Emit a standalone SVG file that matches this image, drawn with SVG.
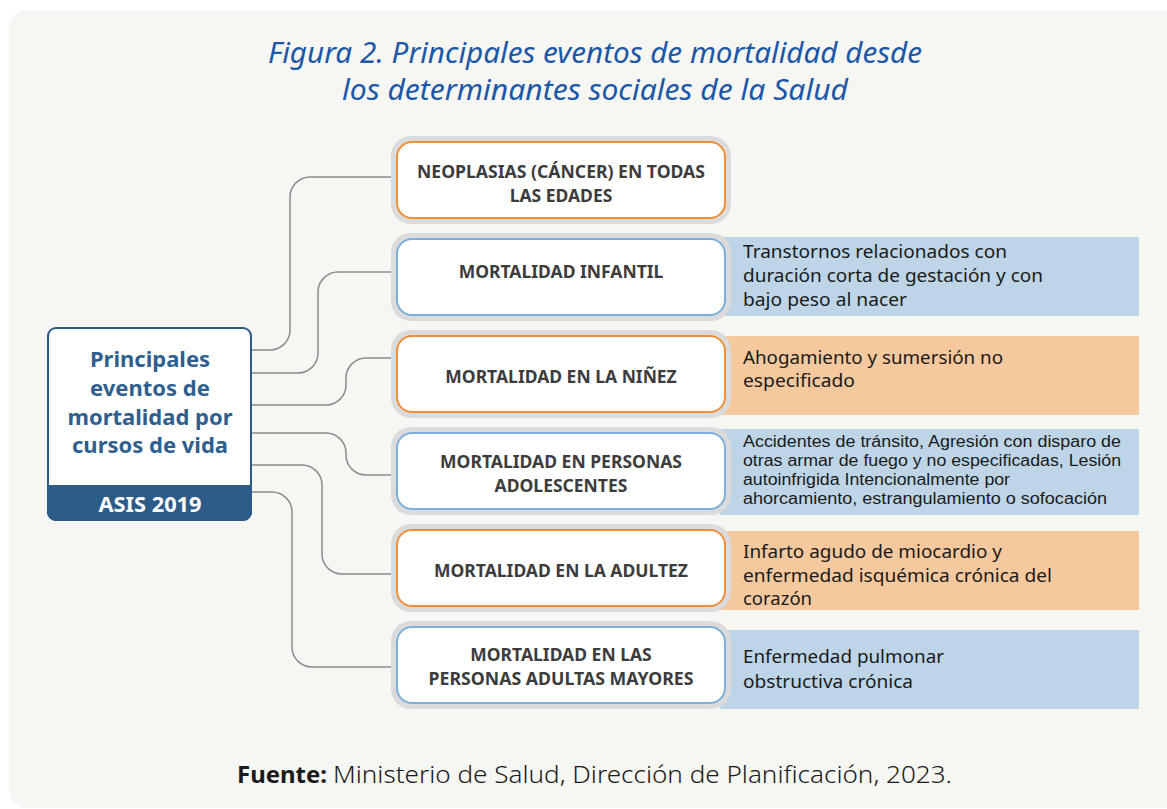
<svg xmlns="http://www.w3.org/2000/svg" width="1167" height="809" viewBox="0 0 1167 809">
<defs>
<style>
.title{font-family:"Noto Sans","Open Sans",sans-serif;font-style:italic;font-size:29px;fill:#1c57a8;text-anchor:middle}
.conn{fill:none;stroke:#8c8c8c;stroke-width:1.5}
.ring{fill:#dbdbdb}
.inO{fill:#fff;stroke:#ef8f37;stroke-width:2}
.inB{fill:#fff;stroke:#7cafd9;stroke-width:2}
.pB{fill:#bdd5e6}
.pO{fill:#f5c89d}
.bt{font-family:"Noto Sans","Open Sans",sans-serif;font-weight:bold;font-size:17.5px;fill:#3c3c3c;text-anchor:middle}
.st{font-family:"Noto Sans","Open Sans",sans-serif;font-size:18px;fill:#1a1a1a}
.st2{font-family:"Liberation Sans",Arial,sans-serif;font-size:16px;fill:#1a1a1a}
.mt{font-family:"Noto Sans","Open Sans",sans-serif;font-weight:bold;font-size:22px;fill:#2e5f8f;text-anchor:middle}
.ft{font-family:"Noto Sans","Open Sans",sans-serif;font-size:24px;fill:#1a1a1a}
</style>
</defs>
<rect x="0" y="0" width="1167" height="809" fill="#ffffff"/>
<rect x="9" y="10" width="1180" height="798" rx="18" fill="#f6f6f2"/>
<g id="title">
<text class="title" x="595" y="63" textLength="654" lengthAdjust="spacingAndGlyphs">Figura 2. Principales eventos de mortalidad desde</text>
<text class="title" x="595" y="100" textLength="506" lengthAdjust="spacingAndGlyphs">los determinantes sociales de la Salud</text>
</g>
<g id="connectors">
<path class="conn" d="M252,350 H270 A20,20 0 0 0 290,330 V197 A20,20 0 0 1 310,177 H397"/>
<path class="conn" d="M252,373 H298 A20,20 0 0 0 318,353 V292 A20,20 0 0 1 338,272 H397"/>
<path class="conn" d="M252,405 H326 A20,20 0 0 0 346,385 V378 A20,20 0 0 1 366,358 H397"/>
<path class="conn" d="M252,433 H326 A20,20 0 0 1 346,453 V455 A20,20 0 0 0 366,475 H397"/>
<path class="conn" d="M252,465 H302 A20,20 0 0 1 322,485 V554 A20,20 0 0 0 342,574 H397"/>
<path class="conn" d="M252,492 H272 A20,20 0 0 1 292,512 V647 A20,20 0 0 0 312,667 H397"/>
</g>
<g id="root">
<rect x="48" y="328" width="203" height="192" rx="8" fill="#ffffff" stroke="#2d5b88" stroke-width="2"/>
<path d="M48,486 H251 V512 A8,8 0 0 1 243,520 H56 A8,8 0 0 1 48,512 Z" fill="#2d5b88" stroke="#2d5b88" stroke-width="2"/>
<text class="mt" x="150" y="367">Principales</text>
<text class="mt" x="150" y="396">eventos de</text>
<text class="mt" x="150" y="425">mortalidad por</text>
<text class="mt" x="150" y="453">cursos de vida</text>
<text x="150" y="512" font-family="Noto Sans, Open Sans, sans-serif" font-weight="bold" font-size="21" fill="#ffffff" text-anchor="middle" textLength="103" lengthAdjust="spacingAndGlyphs">ASIS 2019</text>
</g>
<g id="n1">
<rect class="ring" x="391" y="136" width="340" height="88" rx="20"/>
<rect class="inO" x="397" y="142" width="328" height="76" rx="15"/>
<text class="bt" x="561" y="178" textLength="288" lengthAdjust="spacingAndGlyphs">NEOPLASIAS (CÁNCER) EN TODAS</text>
<text class="bt" x="561" y="202">LAS EDADES</text>
</g>
<g id="n2">
<rect class="pB" x="720" y="237" width="419" height="79"/>
<rect class="ring" x="391" y="233" width="340" height="88" rx="20"/>
<rect class="inB" x="397" y="239" width="328" height="76" rx="15"/>
<text class="bt" x="561" y="278">MORTALIDAD INFANTIL</text>
<text class="st" x="743" y="258" textLength="264" lengthAdjust="spacingAndGlyphs">Transtornos relacionados con</text>
<text class="st" x="743" y="282" textLength="300" lengthAdjust="spacingAndGlyphs">duración corta de gestación y con</text>
<text class="st" x="743" y="306" textLength="164" lengthAdjust="spacingAndGlyphs">bajo peso al nacer</text>
</g>
<g id="n3">
<rect class="pO" x="720" y="336" width="419" height="79"/>
<rect class="ring" x="391" y="330" width="340" height="88" rx="20"/>
<rect class="inO" x="397" y="336" width="328" height="76" rx="15"/>
<text class="bt" x="561" y="383">MORTALIDAD EN LA NIÑEZ</text>
<text class="st" x="743" y="364" textLength="260" lengthAdjust="spacingAndGlyphs">Ahogamiento y sumersión no</text>
<text class="st" x="743" y="387" textLength="112" lengthAdjust="spacingAndGlyphs">especificado</text>
</g>
<g id="n4">
<rect class="pB" x="720" y="429" width="419" height="86"/>
<rect class="ring" x="391" y="427" width="340" height="88" rx="20"/>
<rect class="inB" x="397" y="433" width="328" height="76" rx="15"/>
<text class="bt" x="561" y="468" textLength="242" lengthAdjust="spacingAndGlyphs">MORTALIDAD EN PERSONAS</text>
<text class="bt" x="561" y="492">ADOLESCENTES</text>
<text class="st2" x="743" y="447" textLength="378" lengthAdjust="spacingAndGlyphs">Accidentes de tránsito, Agresión con disparo de</text>
<text class="st2" x="743" y="466" textLength="378" lengthAdjust="spacingAndGlyphs">otras armar de fuego y no especificadas, Lesión</text>
<text class="st2" x="743" y="485" textLength="267" lengthAdjust="spacingAndGlyphs">autoinfrigida Intencionalmente por</text>
<text class="st2" x="743" y="504" textLength="364" lengthAdjust="spacingAndGlyphs">ahorcamiento, estrangulamiento o sofocación</text>
</g>
<g id="n5">
<rect class="pO" x="720" y="531" width="419" height="79"/>
<rect class="ring" x="391" y="524" width="340" height="88" rx="20"/>
<rect class="inO" x="397" y="530" width="328" height="76" rx="15"/>
<text class="bt" x="561" y="577">MORTALIDAD EN LA ADULTEZ</text>
<text class="st" x="743" y="558" textLength="259" lengthAdjust="spacingAndGlyphs">Infarto agudo de miocardio y</text>
<text class="st" x="743" y="582" textLength="309" lengthAdjust="spacingAndGlyphs">enfermedad isquémica crónica del</text>
<text class="st" x="743" y="605" textLength="69" lengthAdjust="spacingAndGlyphs">corazón</text>
</g>
<g id="n6">
<rect class="pB" x="720" y="630" width="419" height="79"/>
<rect class="ring" x="391" y="621" width="340" height="88" rx="20"/>
<rect class="inB" x="397" y="627" width="328" height="76" rx="15"/>
<text class="bt" x="561" y="661">MORTALIDAD EN LAS</text>
<text class="bt" x="561" y="685" textLength="265" lengthAdjust="spacingAndGlyphs">PERSONAS ADULTAS MAYORES</text>
<text class="st" x="743" y="663" textLength="201" lengthAdjust="spacingAndGlyphs">Enfermedad pulmonar</text>
<text class="st" x="743" y="688" textLength="170" lengthAdjust="spacingAndGlyphs">obstructiva crónica</text>
</g>
<g id="footer">
<text class="ft" x="237" y="783" font-weight="bold" textLength="90" lengthAdjust="spacingAndGlyphs">Fuente:</text>
<text class="ft" x="333" y="783" font-weight="300" textLength="619" lengthAdjust="spacingAndGlyphs">Ministerio de Salud, Dirección de Planificación, 2023.</text>
</g>
</svg>
